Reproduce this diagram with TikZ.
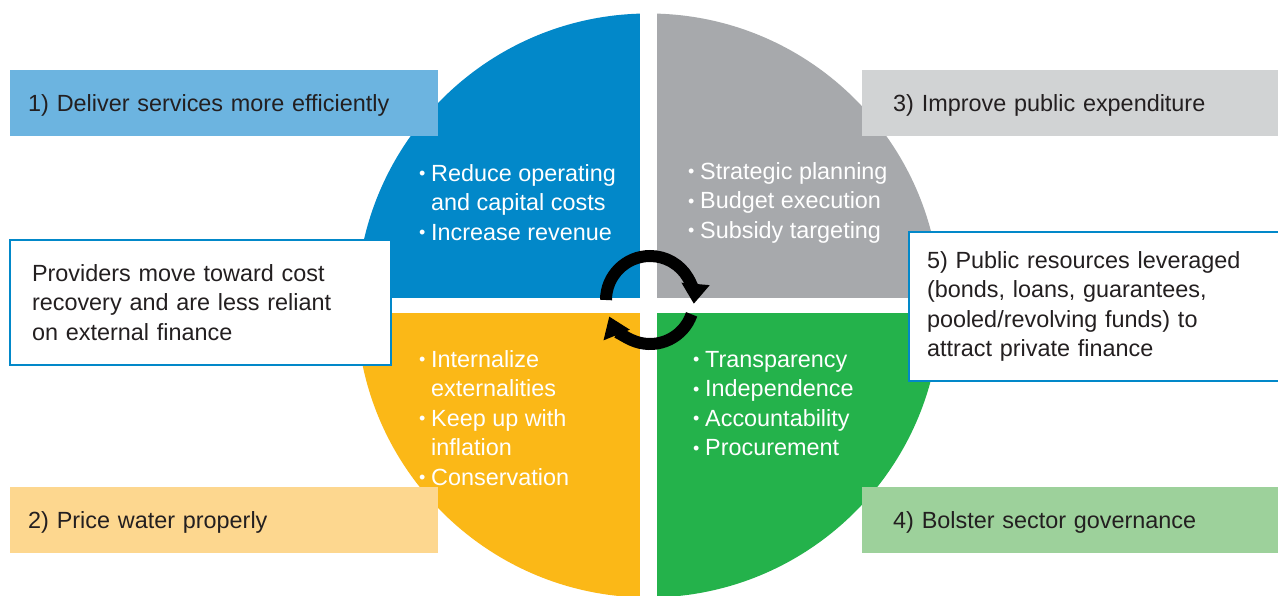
\documentclass[tikz,border=0pt]{standalone}
\usepackage{fontspec}
\setmainfont{Liberation Sans}
\usetikzlibrary{arrows.meta}
\definecolor{qblue}{RGB}{2,136,201}
\definecolor{qgray}{RGB}{167,169,172}
\definecolor{qyellow}{RGB}{251,184,23}
\definecolor{qgreen}{RGB}{36,178,75}
\definecolor{lblue}{RGB}{108,180,224}
\definecolor{lgray}{RGB}{209,211,212}
\definecolor{lyellow}{RGB}{253,215,143}
\definecolor{lgreen}{RGB}{157,209,155}
\definecolor{txt}{RGB}{35,31,32}
\newcommand\qbul{\makebox[12pt][l]{\raisebox{1.5pt}{\fontsize{18}{18}\selectfont\textbullet}}}
\newcommand\qind{\hspace*{12pt}}
\begin{document}
\begin{tikzpicture}[x=1pt, y=1pt,
  every node/.style={font=\fontsize{23.4}{29.5}\selectfont},
  goalbox/.style={anchor=north west, minimum height=66pt, inner xsep=18pt, text width=392pt, text depth=0pt, align=left, text=txt},
  notebox/.style={anchor=north west, fill=white, draw=qblue, line width=2pt, align=left, text=txt},
  quadtext/.style={anchor=west, inner sep=0pt, align=left, text=white},
  cycle/.style={line width=12pt, -{Triangle[length=20pt,width=27pt]}}]
\useasboundingbox (0,0) rectangle (1278,-595);
\clip (0,0) rectangle (1278,-595);
\fill[white] (0,0) rectangle (1278,-595);
\coordinate (C) at (648.5,-305.5);
\fill[qblue] (C) -- ++(180:292) arc (180:90:292) -- cycle;
\fill[qgray] (C) -- ++(90:292) arc (90:0:292) -- cycle;
\fill[qgreen] (C) -- ++(0:292) arc (0:-90:292) -- cycle;
\fill[qyellow] (C) -- ++(-90:292) arc (-90:-180:292) -- cycle;
\draw[white, line width=17pt] (648.5,-10) -- (648.5,-600);
\draw[white, line width=15pt] (350,-305.5) -- (950,-305.5);
\node[goalbox, fill=lblue] (g1) at (10,-70) {1) Deliver services more efficiently};
\node[goalbox, fill=lgray, inner xsep=31pt, text width=354pt] (g3) at (862,-70) {3) Improve public expenditure};
\node[goalbox, fill=lyellow] (g2) at (10,-487) {2) Price water properly};
\node[goalbox, fill=lgreen, inner xsep=31pt, text width=354pt] (g4) at (862,-487) {4) Bolster sector governance};
\node[notebox, minimum width=381pt, minimum height=125pt, inner xsep=21pt, text width=337pt] (n1) at (9,-239)
  {Providers move toward cost\\recovery and are less reliant\\on external finance};
\node[notebox, minimum width=390pt, minimum height=149pt, inner xsep=17pt, text width=354pt] (n5) at (908,-231)
  {5) Public resources leveraged\\(bonds, loans, guarantees,\\pooled/revolving funds) to\\attract private finance};
\node[quadtext] (t1) at (419,-202.5) {\qbul Reduce operating\\\qind and capital costs\\\qbul Increase revenue};
\node[quadtext] (t3) at (688,-202.5) {\qbul Strategic planning\\\qbul Budget execution\\\qbul Subsidy targeting};
\node[quadtext] (t2) at (419,-418) {\qbul Internalize\\\qind externalities\\\qbul Keep up with\\\qind inflation\\\qbul Conservation};
\node[quadtext] (t4) at (693,-403.5) {\qbul Transparency\\\qbul Independence\\\qbul Accountability\\\qbul Procurement};
\coordinate (R) at (650,-300);
\draw[cycle] (R) ++(180:44) arc (180:-5:44);
\draw[cycle] (R) ++(-19:44) arc (-19:-158:44);
\end{tikzpicture}
\end{document}
